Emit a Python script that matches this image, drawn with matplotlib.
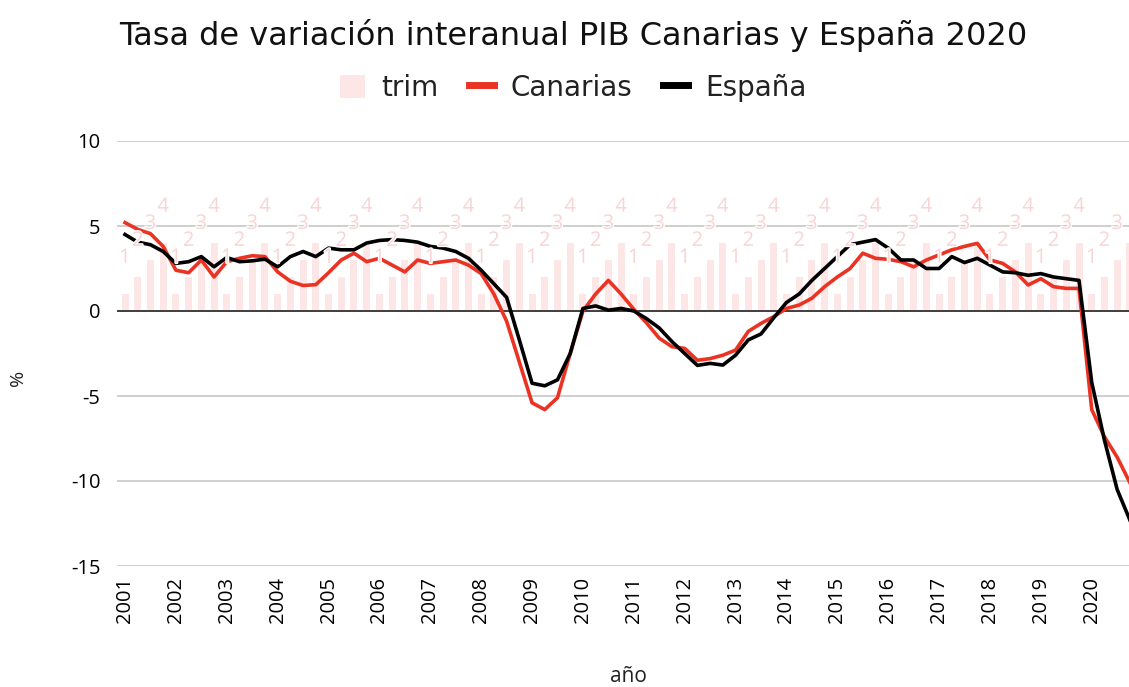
import matplotlib
matplotlib.use("Agg")
import matplotlib.pyplot as plt
import matplotlib.patheffects as pe
from matplotlib.lines import Line2D
from matplotlib.patches import Patch
import numpy as np

plt.rcParams["axes.unicode_minus"] = False

years = list(range(2001, 2021))
trim = [1, 2, 3, 4] * 20

canarias = [
    5.2, 4.8, 4.55, 3.8, 2.4, 2.25, 3.0, 2.0, 2.9, 3.1, 3.25, 3.2, 2.3, 1.75, 1.5, 1.55,
    2.25, 3.0, 3.4, 2.9, 3.1, 2.7, 2.3, 3.0, 2.8, 2.9, 3.0, 2.7, 2.2, 1.0, -0.6, -3.0,
    -5.4, -5.8, -5.1, -2.5, 0.0, 1.0, 1.8, 1.0, 0.1, -0.7, -1.6, -2.1, -2.2, -2.9, -2.8, -2.6,
    -2.3, -1.2, -0.73, -0.33, 0.15, 0.35, 0.75, 1.43, 2.0, 2.5, 3.4, 3.1, 3.04, 2.9, 2.6, 3.0,
    3.3, 3.6, 3.8, 3.98, 3.0, 2.8, 2.3, 1.53, 1.9, 1.43, 1.33, 1.33, -5.8, -7.4, -8.6, -10.1,
]
espana = [
    4.5, 4.05, 3.9, 3.5, 2.8, 2.9, 3.2, 2.6, 3.15, 2.9, 2.95, 3.05, 2.6, 3.2, 3.5, 3.2,
    3.7, 3.6, 3.6, 4.0, 4.15, 4.2, 4.15, 4.05, 3.8, 3.7, 3.5, 3.1, 2.4, 1.6, 0.8, -1.7,
    -4.25, -4.4, -4.05, -2.5, 0.15, 0.3, 0.05, 0.15, 0.0, -0.45, -1.0, -1.8, -2.5, -3.2, -3.08, -3.18,
    -2.6, -1.7, -1.35, -0.4, 0.5, 1.0, 1.8, 2.5, 3.2, 3.9, 4.05, 4.2, 3.7, 3.0, 3.0, 2.5,
    2.5, 3.2, 2.85, 3.1, 2.7, 2.3, 2.25, 2.1, 2.2, 2.0, 1.9, 1.8, -4.2, -7.6, -10.5, -12.3,
]

RED = "#ea3323"
PINK_BAR = "#fce6e6"
PINK_TXT = "#f8d4d4"

fig = plt.figure(figsize=(11.29, 6.87), dpi=100)
ax = fig.add_axes([117 / 1129, 121 / 687, 1012 / 1129, 425 / 687])

x = np.arange(len(trim))
ax.bar(x, trim, width=0.55, color=PINK_BAR, zorder=1)
ax.plot(x, canarias, color=RED, lw=2.6, zorder=3)
ax.plot(x, espana, color="black", lw=2.6, zorder=4)

for xi, t in zip(x, trim):
    ax.annotate(str(t), (xi, t), xytext=(0, 26), textcoords="offset points",
                ha="center", va="center", fontsize=14.5, color=PINK_TXT,
                family="Open Sans", zorder=5,
                path_effects=[pe.withStroke(linewidth=1.8, foreground="white")])

ax.set_xlim(-0.63, 78.93)
ax.set_ylim(-15, 10)
ax.set_yticks([-15, -10, -5, 0, 5, 10])
ax.set_xticks(x[::4])
ax.set_xticklabels([str(y) for y in years], rotation=90, family="Open Sans", fontsize=14.5)
ax.tick_params(axis="y", labelsize=14.5, length=0, pad=12)
ax.tick_params(axis="x", length=0, pad=8)
for lab in ax.get_yticklabels():
    lab.set_family("Open Sans")
ax.grid(axis="y", color="#cccccc", lw=1.3, zorder=0)
ax.axhline(0, color="#333333", lw=1.3, zorder=2)
for s in ax.spines.values():
    s.set_visible(False)
ax.set_axisbelow(True)

fig.text(18 / 1129, 1 - 378 / 687, "%", rotation=90, ha="center", va="center",
         fontsize=14, family="Open Sans", color="#222222")
fig.text(628 / 1129, 1 - 677 / 687, "año", ha="center", va="center",
         fontsize=15, family="Open Sans", color="#222222")
fig.text(573 / 1129, 1 - 35 / 687, "Tasa de variación interanual PIB Canarias y España 2020",
         ha="center", va="center", fontsize=23, color="#111111")

handles = [
    Patch(facecolor=PINK_BAR, edgecolor="none"),
    Line2D([], [], color=RED, lw=5),
    Line2D([], [], color="black", lw=5),
]
fig.legend(handles, ["trim", "Canarias", "España"], loc="center",
           bbox_to_anchor=(573 / 1129, 1 - 88 / 687), ncol=3, frameon=False,
           fontsize=20, handlelength=0.9, handleheight=0.9, columnspacing=1.1,
           handletextpad=0.6, labelcolor="#222222")

fig.savefig("out.png", dpi=100)
